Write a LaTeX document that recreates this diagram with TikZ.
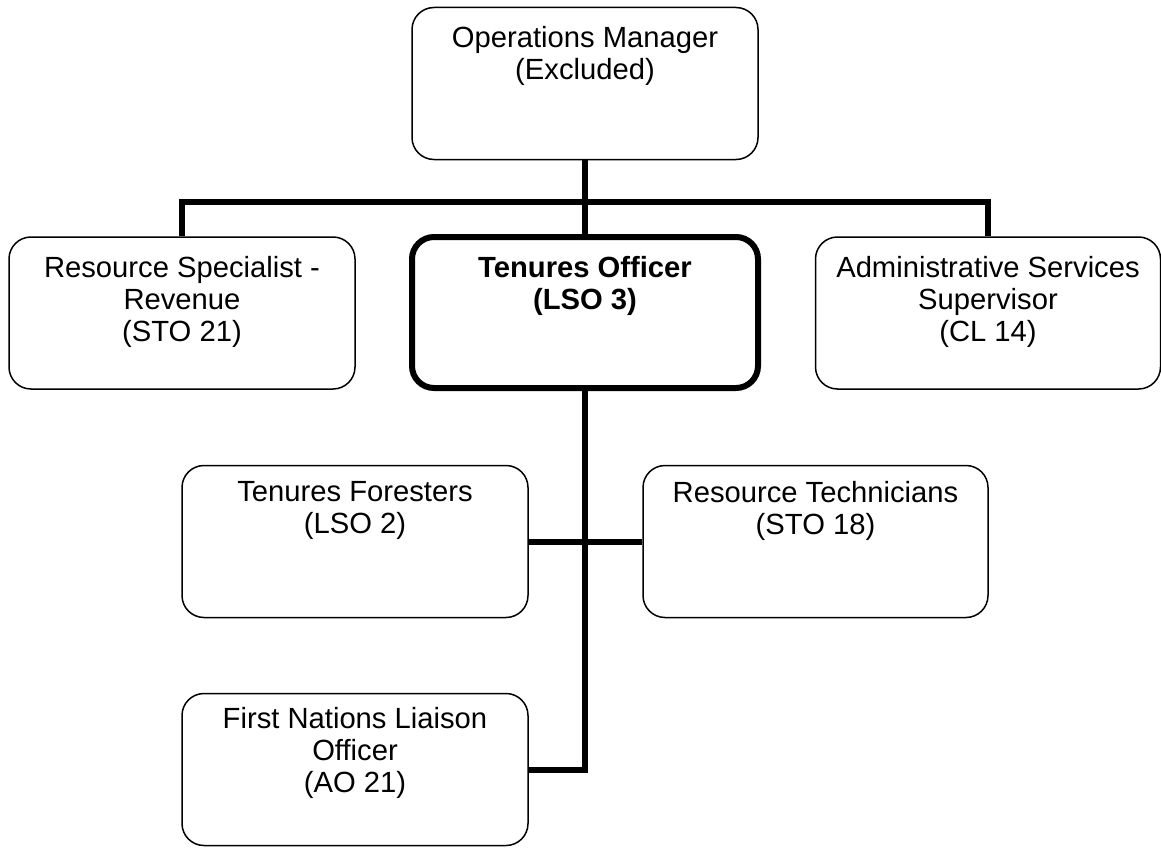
\documentclass[tikz,border=0pt]{standalone}
\usepackage{fontspec}
\setmainfont{Liberation Sans}
\begin{document}
\begin{tikzpicture}[x=1pt,y=-1pt,
  box/.style={draw=black, line width=1.5pt, rounded corners=22pt, minimum width=#1, minimum height=152pt, inner sep=0pt},
  box/.default=346pt,
  bossbox/.style={draw=black, line width=6pt, rounded corners=22pt, minimum width=346pt, minimum height=151pt, inner sep=0pt},
  txt/.style={anchor=north, align=center, inner sep=0pt, font=\fontsize{29.2}{32}\selectfont},
  conn/.style={draw=black, line width=6pt}]
\useasboundingbox (0,0) rectangle (1161,848);
% boxes
\node[box] (om) at (585,83.5) {};
\node[box] (rs) at (182,313) {};
\node[bossbox] (to) at (585,312.5) {};
\node[box=345pt] (as) at (988,313) {};
\node[box] (tf) at (355,541.5) {};
\node[box=345pt] (rt) at (815.5,541.5) {};
\node[box] (fn) at (355,769.5) {};
% texts
\node[txt] (omt) at (585,26) {Operations Manager\\(Excluded)};
\node[txt] (rst) at (182,256) {Resource Specialist -\\Revenue\\(STO 21)};
\node[txt] (tot) at (585,256) {\bfseries Tenures Officer\\\bfseries (LSO 3)};
\node[txt] (ast) at (988,256) {Administrative Services\\Supervisor\\(CL 14)};
\node[txt] (tft) at (355,481) {Tenures Foresters\\(LSO 2)};
\node[txt] (rtt) at (815.5,481) {Resource Technicians\\(STO 18)};
\node[txt] (fnt) at (355,707) {First Nations Liaison\\Officer\\(AO 21)};
% connectors
\coordinate (bus) at (585,202);
\draw[conn] (om.south) -- (to.north);
\draw[conn] (rs.north) |- (bus) -| (as.north);
\draw[conn] (to.south) |- (fn.east);
\draw[conn] (tf.east) -- (rt.west);
\end{tikzpicture}
\end{document}
